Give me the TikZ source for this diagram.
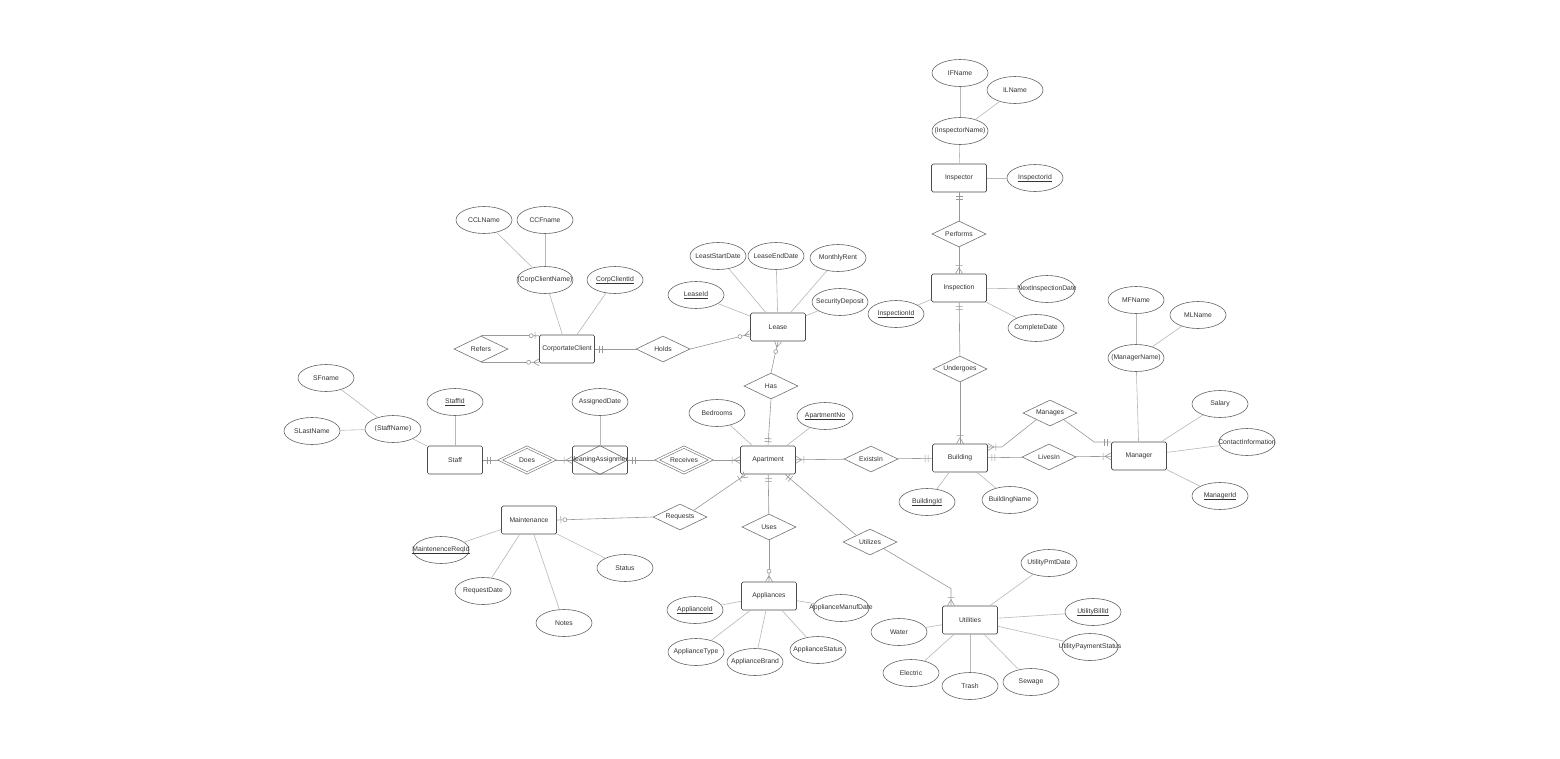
\documentclass[tikz,border=0pt]{standalone}
\usepackage{fontspec}
\setmainfont{Liberation Sans}
\usetikzlibrary{shapes.geometric,arrows.meta,calc}

\newcommand{\zb}[1]{\makebox[0pt]{#1}}
\newcommand{\udl}[1]{\setbox0\hbox{#1}\rlap{\raisebox{-1.3pt}{\rule{\wd0}{0.3pt}}}\box0}

\pgfdeclarearrow{
  name = ERmand,
  parameters = {\the\pgflinewidth},
  setup code = {
    \pgfarrowssettipend{0pt}
    \pgfarrowssetlineend{0pt}
    \pgfarrowssetbackend{-8pt}
    \pgfarrowsupperhullpoint{0pt}{3.5pt}
    \pgfarrowsupperhullpoint{-8pt}{3.5pt}
  },
  drawing code = {
    \pgfsetdash{}{0pt}
    \pgfpathmoveto{\pgfqpoint{-4pt}{-3.5pt}}
    \pgfpathlineto{\pgfqpoint{-4pt}{3.5pt}}
    \pgfpathmoveto{\pgfqpoint{-7pt}{-3.5pt}}
    \pgfpathlineto{\pgfqpoint{-7pt}{3.5pt}}
    \pgfusepathqstroke
  },
}
\pgfdeclarearrow{
  name = ERonemany,
  parameters = {\the\pgflinewidth},
  setup code = {
    \pgfarrowssettipend{0pt}
    \pgfarrowssetlineend{0pt}
    \pgfarrowssetbackend{-8pt}
    \pgfarrowsupperhullpoint{0pt}{3.5pt}
    \pgfarrowsupperhullpoint{-8pt}{3.5pt}
  },
  drawing code = {
    \pgfsetdash{}{0pt}
    \pgfpathmoveto{\pgfqpoint{0pt}{3.5pt}}
    \pgfpathlineto{\pgfqpoint{-6pt}{0pt}}
    \pgfpathlineto{\pgfqpoint{0pt}{-3.5pt}}
    \pgfpathmoveto{\pgfqpoint{-8pt}{-3.5pt}}
    \pgfpathlineto{\pgfqpoint{-8pt}{3.5pt}}
    \pgfusepathqstroke
  },
}
\pgfdeclarearrow{
  name = ERzeromany,
  parameters = {\the\pgflinewidth},
  setup code = {
    \pgfarrowssettipend{0pt}
    \pgfarrowssetlineend{-12.5pt}
    \pgfarrowssetbackend{-12.5pt}
    \pgfarrowsupperhullpoint{0pt}{3.5pt}
    \pgfarrowsupperhullpoint{-12.5pt}{3.5pt}
  },
  drawing code = {
    \pgfsetdash{}{0pt}
    \pgfpathmoveto{\pgfqpoint{-8.5pt}{0pt}}
    \pgfpathlineto{\pgfqpoint{0pt}{0pt}}
    \pgfpathmoveto{\pgfqpoint{0pt}{3.5pt}}
    \pgfpathlineto{\pgfqpoint{-6pt}{0pt}}
    \pgfpathlineto{\pgfqpoint{0pt}{-3.5pt}}
    \pgfpathcircle{\pgfqpoint{-10.5pt}{0pt}}{2pt}
    \pgfusepathqstroke
  },
}
\pgfdeclarearrow{
  name = ERzeroone,
  parameters = {\the\pgflinewidth},
  setup code = {
    \pgfarrowssettipend{0pt}
    \pgfarrowssetlineend{-10pt}
    \pgfarrowssetbackend{-10pt}
    \pgfarrowsupperhullpoint{0pt}{3.5pt}
    \pgfarrowsupperhullpoint{-10pt}{3.5pt}
  },
  drawing code = {
    \pgfsetdash{}{0pt}
    \pgfpathmoveto{\pgfqpoint{-6pt}{0pt}}
    \pgfpathlineto{\pgfqpoint{0pt}{0pt}}
    \pgfpathmoveto{\pgfqpoint{-4pt}{-3.5pt}}
    \pgfpathlineto{\pgfqpoint{-4pt}{3.5pt}}
    \pgfpathcircle{\pgfqpoint{-8pt}{0pt}}{2pt}
    \pgfusepathqstroke
  },
}

\begin{document}
\begin{tikzpicture}[x=1pt,y=-1pt,
  every node/.style={font=\fontsize{6.8}{8}\selectfont, text=black!80},
  ent/.style={draw=black!70, line width=0.7pt, rounded corners=1.5pt, minimum width=55pt, minimum height=28pt, inner sep=0pt},
  attr/.style={ellipse, draw=black!60, line width=0.6pt, minimum width=56pt, minimum height=27pt, inner sep=0pt},
  rel/.style={diamond, draw=black!55, line width=0.6pt, minimum width=54pt, minimum height=26pt, inner sep=0pt},
  wrel/.style={rel, double=white, double distance=1.5pt},
  aline/.style={draw=black!28, line width=0.6pt},
  conn/.style={draw=black!40, line width=0.6pt},
]
\fill[white] (0,0) rectangle (1560,758);
\useasboundingbox (0,0) rectangle (1560,758);

% ---------- entities ----------
\node[ent] (inspector) at (959,178) {\zb{Inspector}};
\node[ent] (inspection) at (959,288) {\zb{Inspection}};
\node[ent] (cc) at (567,349) {\zb{CorportateClient}};
\node[ent] (lease) at (778,327) {\zb{Lease}};
\node[ent] (staff) at (455,460) {\zb{Staff}};
\node[ent] (ca) at (600,460) {};
\node[ent] (apt) at (768,460) {\zb{Apartment}};
\node[ent] (bld) at (960,458) {\zb{Building}};
\node[ent] (mgr) at (1139,456) {\zb{Manager}};
\node[ent] (maint) at (529,520) {\zb{Maintenance}};
\node[ent] (app) at (769,596) {\zb{Appliances}};
\node[ent] (util) at (970,620) {\zb{Utilities}};

% associative entity: diamond inside the box
\draw[draw=black!60, line width=0.6pt] (ca.north) -- (ca.east) -- (ca.south) -- (ca.west) -- cycle;
\begin{scope}
  \clip (ca.south west) rectangle (ca.north east);
  \node (catext) at (ca.center) {CleaningAssignment};
\end{scope}

% ---------- relationships ----------
\node[rel] (performs) at (959,234) {\zb{Performs}};
\node[rel] (undergoes) at (960,369) {\zb{Undergoes}};
\node[rel] (refers) at (481,349) {\zb{Refers}};
\node[rel] (holds) at (663,349) {\zb{Holds}};
\node[rel] (has) at (771,386) {\zb{Has}};
\node[wrel] (does) at (527,460) {\zb{Does}};
\node[wrel] (receives) at (684,460) {\zb{Receives}};
\node[rel] (existsin) at (871,459) {\zb{ExistsIn}};
\node[rel] (livesin) at (1049,457) {\zb{LivesIn}};
\node[rel] (manages) at (1050,413) {\zb{Manages}};
\node[rel] (requests) at (680,517) {\zb{Requests}};
\node[rel] (uses) at (769,527) {\zb{Uses}};
\node[rel] (utilizes) at (870,542) {\zb{Utilizes}};

% ---------- attributes ----------
% Inspector
\node[attr] (ifname) at (960,73) {\zb{IFName}};
\node[attr] (ilname) at (1015,90) {\zb{ILName}};
\node[attr] (iname) at (960,131) {\zb{(InspectorName)}};
\node[attr] (inspid) at (1035,178) {\zb{\udl{InspectorId}}};
% Inspection
\node[attr] (nextdate) at (1047,289) {\zb{NextInspectionDate}};
\node[attr] (compdate) at (1036,328) {\zb{CompleteDate}};
\node[attr] (inspnid) at (896,314) {\zb{\udl{InspectionId}}};
% Corporate client
\node[attr] (cclname) at (484,220) {\zb{CCLName}};
\node[attr] (ccfname) at (545,220) {\zb{CCFname}};
\node[attr] (ccname) at (545,280) {\zb{(CorpClientName)}};
\node[attr] (ccid) at (615,280) {\zb{\udl{CorpClientId}}};
% Lease
\node[attr] (lstart) at (718,256) {\zb{LeastStartDate}};
\node[attr] (lend) at (776,256) {\zb{LeaseEndDate}};
\node[attr] (mrent) at (838,258) {\zb{MonthlyRent}};
\node[attr] (leaseid) at (696,295) {\zb{\udl{LeaseId}}};
\node[attr] (secdep) at (840,302) {\zb{SecurityDeposit}};
% Staff
\node[attr] (sfname) at (326,378) {\zb{SFname}};
\node[attr] (slname) at (312,431) {\zb{SLastName}};
\node[attr] (sname) at (393,429) {\zb{(StaffName)}};
\node[attr] (staffid) at (455,402) {\zb{\udl{StaffId}}};
% Cleaning assignment
\node[attr] (assigned) at (600,402) {\zb{AssignedDate}};
% Apartment
\node[attr] (bedrooms) at (717,413) {\zb{Bedrooms}};
\node[attr] (aptno) at (825,416) {\zb{\udl{ApartmentNo}}};
% Building
\node[attr] (bldid) at (927,502) {\zb{\udl{BuildingId}}};
\node[attr] (bldname) at (1010,500) {\zb{BuildingName}};
% Manager
\node[attr] (mfname) at (1136,300) {\zb{MFName}};
\node[attr] (mlname) at (1198,315) {\zb{MLName}};
\node[attr] (mname) at (1136,358) {\zb{(ManagerName)}};
\node[attr] (salary) at (1220,404) {\zb{Salary}};
\node[attr] (contact) at (1247,442) {\zb{ContactInformation}};
\node[attr] (mgrid) at (1220,496) {\zb{\udl{ManagerId}}};
% Maintenance
\node[attr] (mreqid) at (441,550) {\zb{\udl{MaintenenceReqId}}};
\node[attr] (reqdate) at (483,591) {\zb{RequestDate}};
\node[attr] (notes) at (564,623) {\zb{Notes}};
\node[attr] (status) at (625,568) {\zb{Status}};
% Appliances
\node[attr] (appid) at (695,610) {\zb{\udl{ApplianceId}}};
\node[attr] (appmdate) at (841,608) {\zb{ApplianceManufDate}};
\node[attr] (apptype) at (696,652) {\zb{ApplianceType}};
\node[attr] (appbrand) at (755,662) {\zb{ApplianceBrand}};
\node[attr] (appstatus) at (818,650) {\zb{ApplianceStatus}};
% Utilities
\node[attr] (upmt) at (1049,563) {\zb{UtilityPmtDate}};
\node[attr] (ubill) at (1093,612) {\zb{\udl{UtilityBillId}}};
\node[attr] (upstat) at (1090,647) {\zb{UtilityPaymentStatus}};
\node[attr] (water) at (899,632) {\zb{Water}};
\node[attr] (electric) at (911,673) {\zb{Electric}};
\node[attr] (trash) at (970,686) {\zb{Trash}};
\node[attr] (sewage) at (1031,682) {\zb{Sewage}};

% ---------- attribute lines ----------
\draw[aline] (ifname) -- (iname);
\draw[aline] (ilname) -- (iname);
\draw[aline] (iname) -- (inspector);
\draw[aline] (inspid) -- (inspector);
\draw[aline] (inspnid) -- (inspection);
\draw[aline] (nextdate) -- (inspection);
\draw[aline] (compdate) -- (inspection);
\draw[aline] (cclname) -- (ccname);
\draw[aline] (ccfname) -- (ccname);
\draw[aline] (ccname) -- (cc);
\draw[aline] (ccid) -- (cc);
\draw[aline] (lstart) -- (lease);
\draw[aline] (lend) -- (lease);
\draw[aline] (mrent) -- (lease);
\draw[aline] (leaseid) -- (lease);
\draw[aline] (secdep) -- (lease);
\draw[aline] (sfname) -- (sname);
\draw[aline] (slname) -- (sname);
\draw[aline] (sname) -- (staff);
\draw[aline] (staffid) -- (staff);
\draw[aline] (assigned) -- (ca);
\draw[aline] (bedrooms) -- (apt);
\draw[aline] (aptno) -- (apt);
\draw[aline] (bldid) -- (bld);
\draw[aline] (bldname) -- (bld);
\draw[aline] (mfname) -- (mname);
\draw[aline] (mlname) -- (mname);
\draw[aline] (mname) -- (mgr);
\draw[aline] (salary) -- (mgr);
\draw[aline] (contact) -- (mgr);
\draw[aline] (mgrid) -- (mgr);
\draw[aline] (mreqid) -- (maint);
\draw[aline] (reqdate) -- (maint);
\draw[aline] (notes) -- (maint);
\draw[aline] (status) -- (maint);
\draw[aline] (appid) -- (app);
\draw[aline] (appmdate) -- (app);
\draw[aline] (apptype) -- (app);
\draw[aline] (appbrand) -- (app);
\draw[aline] (appstatus) -- (app);
\draw[aline] (upmt) -- (util);
\draw[aline] (ubill) -- (util);
\draw[aline] (upstat) -- (util);
\draw[aline] (water) -- (util);
\draw[aline] (electric) -- (util);
\draw[aline] (trash) -- (util);
\draw[aline] (sewage) -- (util);

% ---------- relationship connectors ----------
\draw[conn, {ERmand}-] (inspector) -- (performs);
\draw[conn, -{ERonemany}] (performs) -- (inspection);
\draw[conn, {ERmand}-] (inspection) -- (undergoes);
\draw[conn, -{ERonemany}] (undergoes) -- (bld);

\draw[conn, -{ERzeroone}] (refers.north) -- (refers.north -| cc.west);
\draw[conn, -{ERzeromany}] (refers.south) -- (refers.south -| cc.west);
\draw[conn, {ERmand}-] (cc) -- (holds);
\draw[conn, -{ERzeromany}] (holds.east) -- ([yshift=-7]lease.west);
\draw[conn, -{ERzeromany}] (has.north) -- (lease.south);
\draw[conn, -{ERmand}] (has.south) -- (apt.north);

\draw[conn, {ERmand}-] (staff) -- (does);
\draw[conn, -{ERonemany}] (does) -- (ca);
\draw[conn, {ERmand}-] (ca) -- (receives);
\draw[conn, -{ERonemany}] (receives) -- (apt);

\draw[conn, {ERonemany}-] (apt) -- (existsin);
\draw[conn, -{ERmand}] (existsin) -- (bld);
\draw[conn, {ERonemany}-] ([yshift=11]bld.east) -- ++(14,0) -- (manages.south west);
\draw[conn, -{ERmand}] (manages.south east) -- ([xshift=-17,yshift=14]mgr.west) -- ([yshift=14]mgr.west);
\draw[conn, {ERmand}-] (bld) -- (livesin);
\draw[conn, -{ERonemany}] (livesin) -- (mgr);

\draw[conn, {ERonemany}-] ([xshift=-22]apt.south) -- (requests.north east);
\draw[conn, -{ERzeroone}] (requests.west) -- (maint.east);
\draw[conn, {ERmand}-] (apt) -- (uses);
\draw[conn, -{ERzeromany}] (uses) -- (app);
\draw[conn, {ERmand}-] ([xshift=17]apt.south) -- (utilizes.north west);
\draw[conn, -{ERonemany}] (utilizes.south east) -- ([xshift=-19,yshift=17]util.north) -- ([xshift=-19]util.north);
\end{tikzpicture}
\end{document}
